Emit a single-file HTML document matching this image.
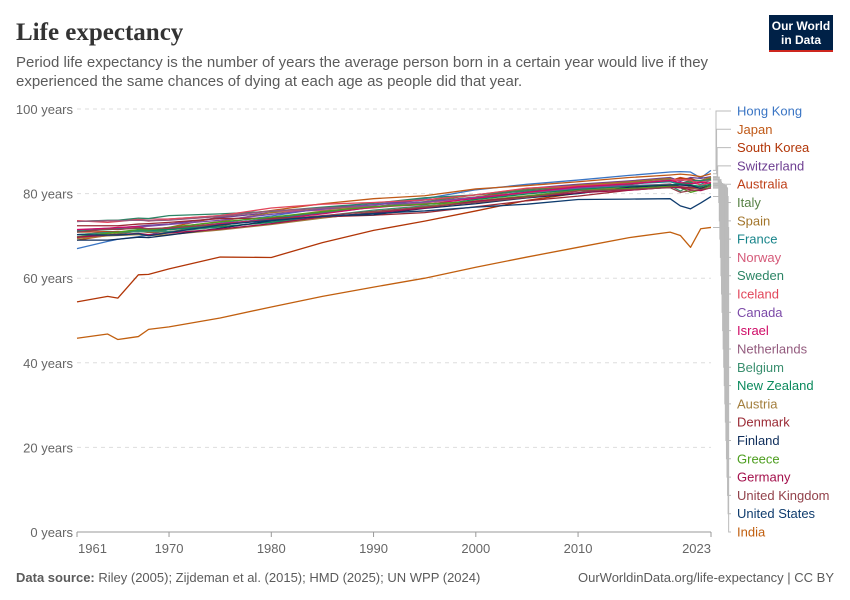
<!DOCTYPE html>
<html><head><meta charset="utf-8">
<style>
body{margin:0;background:#fff;font-family:"Liberation Sans",sans-serif;}
#wrap{position:relative;width:850px;height:600px;overflow:hidden;}
</style></head>
<body>
<div id="wrap">
<svg id="svg" width="850" height="600" xmlns="http://www.w3.org/2000/svg">
<text x="16" y="40" font-family="Liberation Serif,serif" font-size="25" font-weight="bold" fill="#333">Life expectancy</text>
<text x="16" y="67" font-size="15" fill="#5b5b5b">Period life expectancy is the number of years the average person born in a certain year would live if they</text>
<text x="16" y="86" font-size="15" fill="#5b5b5b">experienced the same chances of dying at each age as people did that year.</text>
<g>
<rect x="769" y="15" width="64" height="35" fill="#002147"/>
<rect x="769" y="50" width="64" height="2" fill="#ce261e"/>
<text x="801" y="30" font-size="12" fill="#fff" text-anchor="middle" font-weight="bold">Our World</text>
<text x="801" y="44" font-size="12" fill="#fff" text-anchor="middle" font-weight="bold">in Data</text>
</g>
<g id="grid"></g><g id="lines"></g><g id="legend"></g>
<text x="16" y="582" font-size="13" fill="#5b5b5b"><tspan font-weight="bold">Data source:</tspan> Riley (2005); Zijdeman et al. (2015); HMD (2025); UN WPP (2024)</text>
<text x="834" y="582" font-size="13" fill="#5b5b5b" text-anchor="end">OurWorldinData.org/life-expectancy | CC BY</text>
</svg>
</div>
<script>
const years=[1961,1964,1965,1967,1968,1970,1975,1980,1985,1990,1995,2000,2005,2010,2015,2019,2020,2021,2022,2023];
const yTicks=[0,20,40,60,80,100];
const xTicks=[1961,1970,1980,1990,2000,2010,2023];
const countries=["Hong Kong","Japan","South Korea","Switzerland","Australia","Italy","Spain","France","Norway","Sweden","Iceland","Canada","Israel","Netherlands","Belgium","New Zealand","Austria","Denmark","Finland","Greece","Germany","United Kingdom","United States","India"];
const colors=["#3a75c4","#c05917","#b13507","#6d3e91","#be3f17","#578145","#a2752b","#18848a","#d55a79","#2c8465","#e2465a","#7c4aa8","#cf0a66","#935b7e","#3a8f6f","#0b8a5d","#a37e3d","#9a2934","#0f2e5b","#4d9e1f","#a4114c","#92424b","#0f3c6e","#c15f0f"];
const hongKong=[67,68.7,69.2,69.8,70.2,71.5,73,74.7,76.5,77.4,78.8,80.9,82.2,83.2,84.3,85.1,85.2,85.1,83.7,85.5];
const japan=[69,70.1,70.5,71.2,71.5,72,74.5,76,77.6,78.8,79.5,81.1,81.9,82.8,83.8,84.4,84.6,84.4,84,84.7];
const southKorea=[54.4,55.7,55.3,60.8,60.9,62.2,65,64.9,68.4,71.3,73.5,75.9,78.4,80.1,82.1,83.3,83.5,83.6,82.7,83.4];
const switzerland=[71.4,71.8,71.9,72.3,72.5,72.8,74.3,75.5,76.7,77.3,78.5,79.7,81.2,82.2,83,83.8,82.9,83.8,83.6,84];
const australia=[70.9,71,71,71.1,70.8,71,72.4,74.3,75.6,76.9,78,79.2,80.9,81.8,82.6,83,83.8,83.3,83,83.4];
const italy=[69.5,70.2,70.5,71.1,71,71.5,72.6,74,75.5,76.9,78.1,79.7,80.9,82,82.7,83.5,82.2,82.7,83,83.7];
const spain=[69.6,70.5,70.8,71.3,71.5,71.9,73.4,75.5,76.3,76.9,77.8,79.2,80.3,82,82.8,83.6,82.2,83,83.1,83.9];
const france=[70.3,70.8,70.9,71.3,71.2,71.7,72.7,74.2,75.3,76.8,77.9,79,80.2,81.5,82.3,82.8,82.2,82.5,82.2,83.2];
const norway=[73.5,73.6,73.7,73.9,74,74,74.8,75.8,76,76.6,77.9,78.8,80.2,81.1,82.3,83.3,83.3,83.2,82.7,83.2];
const sweden=[73.4,73.7,73.7,74.2,74.1,74.8,75.2,75.8,76.8,77.7,79,79.7,80.6,81.5,82.2,83.2,82.4,83.1,83.1,83.3];
const iceland=[73.6,73.2,73.4,73.9,73.5,74,74.8,76.6,77.5,77.9,78.5,79.7,81.3,81.8,82.4,83.1,83.2,83.2,81.9,82.7];
const canada=[71.1,71.6,71.8,72.2,72.3,72.7,73.7,75.1,76.3,77.4,78,79.1,80.3,81.3,81.9,82.2,81.6,81.5,81.3,81.7];
const israel=[71.5,71.8,72,72.2,71.6,71.8,72.9,73.9,75.2,76.8,77.4,78.9,80.3,81.6,82.3,83.1,82.6,82.3,82.7,82.4];
const netherlands=[73.4,73.6,73.6,73.7,73.6,73.7,74.6,75.9,76.6,77,77.6,78,79.4,80.9,81.6,82.3,81.4,81.6,81.7,82.2];
const belgium=[70.3,70.8,70.9,71,71,71,72.1,73.3,74.7,76.1,77.1,77.9,79,80.2,81.2,81.9,80.6,81.9,81.8,82.2];
const newZealand=[71.1,71.5,71.6,71.8,71.4,71.5,72.2,73.2,74.3,75.4,76.9,78.6,79.9,81,81.7,82.1,82.3,82.1,81.6,82.2];
const austria=[69.4,70,70.1,70.3,70.1,70.3,71.4,72.7,74.2,75.6,76.9,78.3,79.5,80.7,81.4,82,81.5,81.2,81.3,81.9];
const denmark=[72.4,72.4,72.4,72.8,72.9,73.2,74.1,74.2,74.5,74.9,75.5,76.9,78.3,79.4,80.8,81.5,81.6,81.4,81.3,81.9];
const finland=[69,69,69.2,69.7,69.6,70.2,71.8,73.6,74.7,75,76.5,77.6,79,80,81.5,82,82,81.9,81.2,81.9];
const greece=[69.8,70.6,70.9,71.5,71.4,72,73.3,74.4,75.8,76.9,77.5,78.2,79.4,80.7,81.2,81.7,81.4,80.3,80.9,81.9];
const germany=[69.7,70.2,70.3,70.6,70.3,70.7,71.6,72.9,74.5,75.4,76.6,78.2,79.2,80.2,80.8,81.5,81.4,80.9,80.7,81.4];
const unitedKingdom=[70.9,71.6,71.5,71.9,71.7,71.9,72.7,73.8,74.8,75.8,76.8,77.9,79.1,80.6,81,81.4,80.3,80.7,81,81.3];
const unitedStates=[70.3,70.2,70.2,70.5,70,70.8,72.6,73.7,74.6,75.3,75.9,76.8,77.5,78.6,78.7,78.8,77.1,76.4,77.8,79.3];
const india=[45.8,46.8,45.5,46.2,47.9,48.5,50.6,53.2,55.7,57.9,60,62.6,65,67.3,69.6,70.9,70.1,67.3,71.7,72];
const series=[hongKong,japan,southKorea,switzerland,australia,italy,spain,france,norway,sweden,iceland,canada,israel,netherlands,belgium,newZealand,austria,denmark,finland,greece,germany,unitedKingdom,unitedStates,india];

const NS="http://www.w3.org/2000/svg";
const X0=77,X1=711,Y0=532,Y1=109;
const xs=y=>X0+(y-1961)/(2023-1961)*(X1-X0);
const ys=v=>Y0-v/100*(Y0-Y1);
function mk(tag,attrs,parent){const e=document.createElementNS(NS,tag);for(const k in attrs)e.setAttribute(k,attrs[k]);parent.appendChild(e);return e;}
const grid=document.getElementById('grid'),lines=document.getElementById('lines'),legend=document.getElementById('legend');
yTicks.forEach(t=>{
  if(t>0){const l=mk('line',{x1:X0,x2:X1,y1:ys(t),y2:ys(t),stroke:'#ddd','stroke-dasharray':'4,4'},grid);
  
  }
  const tx=mk('text',{x:73,y:ys(t)+5,'font-size':13,fill:'#666','text-anchor':'end'},grid);tx.textContent=t+' years';
  
  
});
const ax=mk('line',{x1:X0,x2:X1,y1:Y0,y2:Y0,stroke:'#999'},grid);


xTicks.forEach((t,i)=>{
  mk('line',{x1:xs(t),x2:xs(t),y1:Y0,y2:Y0+5,stroke:'#999'},grid);
  const anchor=i==0?'start':(i==xTicks.length-1?'end':'middle');
  const tx=mk('text',{x:i==0?X0+1:xs(t),y:Y0+21,'font-size':13,fill:'#666','text-anchor':anchor},grid);tx.textContent=t;
  
  
});
series.forEach((vals,i)=>{
  const p=mk('polyline',{points:vals.map((v,j)=>xs(years[j])+','+ys(v)).join(' '),fill:'none',stroke:colors[i],'stroke-width':1.3,'stroke-linejoin':'round'},lines);
  
  
});
countries.forEach((c,i)=>{
  const ly=111+i*(532-111)/23;
  const ye=ys(series[i][series[i].length-1]);
  const xk=716+i*0.55;
  const con=mk('polyline',{points:`${X1+2},${ye} ${xk},${ye} ${xk},${ly} 731,${ly}`,fill:'none',stroke:'#bbb','stroke-width':1},legend);
  
  
  const t=mk('text',{x:737,y:ly+4.5,'font-size':13,fill:colors[i]},legend);t.textContent=c;
  
  
});
</script>
</body></html>
